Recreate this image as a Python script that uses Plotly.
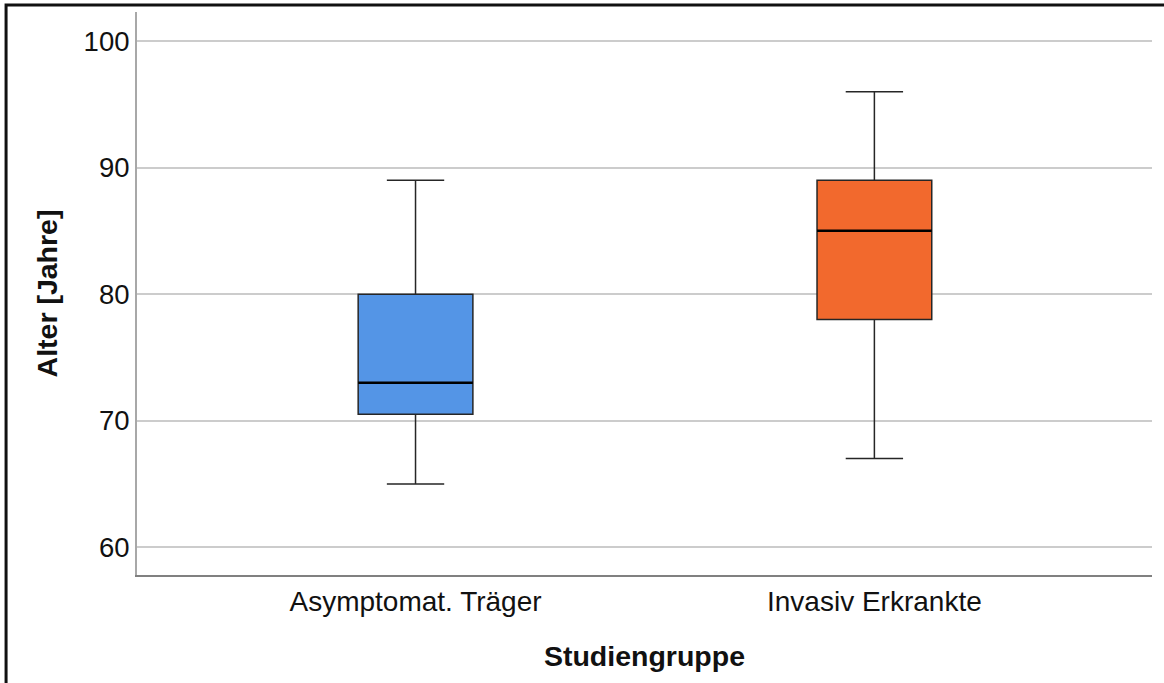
import plotly.graph_objects as go

categories = ["Asymptomat. Träger", "Invasiv Erkrankte"]
lower_whisker = [65, 67]
q1_values = [70.5, 78]
median_values = [73, 85]
q3_values = [80, 89]
upper_whisker = [89, 96]
fill_colors = ["#5495E6", "#F2692D"]
y_ticks = [60, 70, 80, 90, 100]

BOX_W = 0.25
FONT = "Liberation Sans, Arial, sans-serif"
positions = list(range(len(categories)))

fig = go.Figure()
for i, cat in enumerate(categories):
    fig.add_trace(go.Box(
        x=[positions[i]], q1=[q1_values[i]], median=[median_values[i]], q3=[q3_values[i]],
        lowerfence=[lower_whisker[i]], upperfence=[upper_whisker[i]],
        width=BOX_W, whiskerwidth=0.5, fillcolor=fill_colors[i],
        line=dict(color="#262626", width=1.5), boxpoints=False,
        name=cat, showlegend=False, hoverinfo="skip",
    ))
    # thicker median line overlay
    fig.add_trace(go.Scatter(
        x=[positions[i] - BOX_W / 2, positions[i] + BOX_W / 2], y=[median_values[i]] * 2,
        mode="lines", line=dict(color="#000000", width=2.5),
        showlegend=False, hoverinfo="skip",
    ))

fig.update_layout(
    width=1164, height=683,
    margin=dict(l=137, r=12, t=12, b=108),
    paper_bgcolor="white", plot_bgcolor="white",
    font=dict(family=FONT, size=28, color="#111111"),
    xaxis=dict(
        type="linear", range=[-0.607, 1.605],
        tickvals=positions, ticktext=categories,
        showgrid=False, showline=True, linecolor="#808080", linewidth=2,
        ticks="", tickfont=dict(size=28, color="#111111"),
        title=dict(text="<b>Studiengruppe</b>", font=dict(size=28.5, color="#111111"), standoff=30),
        zeroline=False,
    ),
    yaxis=dict(
        range=[57.8, 102.3], tickvals=y_ticks,
        showgrid=True, gridcolor="#CCCCCC", gridwidth=2,
        showline=True, linecolor="#A8A8A8", linewidth=2,
        ticks="", tickfont=dict(size=27.5, color="#111111"),
        title=dict(text="<b>Alter [Jahre]</b>", font=dict(size=28.5, color="#111111"), standoff=18),
        zeroline=False,
    ),
    shapes=[dict(
        type="rect", xref="paper", yref="paper",
        x0=-0.129, x1=1.2, y0=-0.4, y1=1.0124,
        line=dict(color="#111111", width=3), fillcolor="rgba(0,0,0,0)", layer="above",
    )],
)

fig.write_html("out.html", config={"displayModeBar": False},
               post_script="document.body.style.margin='0';")
